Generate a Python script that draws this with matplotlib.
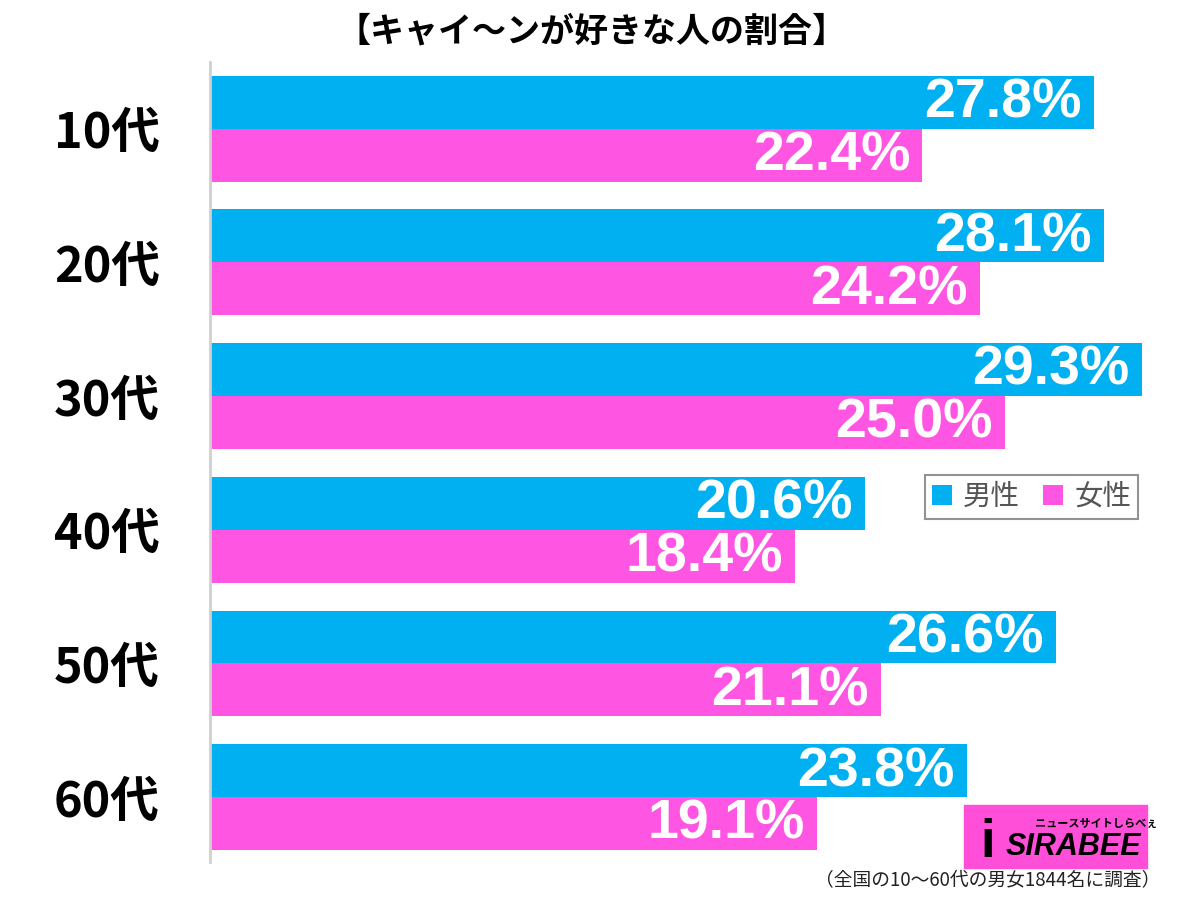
import matplotlib.pyplot as plt
from matplotlib.patches import Rectangle

plt.rcParams['font.family'] = ['Noto Sans CJK JP', 'DejaVu Sans']

ages = ['10代', '20代', '30代', '40代', '50代', '60代']
male = [27.8, 28.1, 29.3, 20.6, 26.6, 23.8]
female = [22.4, 24.2, 25.0, 18.4, 21.1, 19.1]

blue = '#00B0F0'
pink = '#FF55E3'

fig = plt.figure(figsize=(12, 8.97), dpi=100)
ax = fig.add_axes([0.175, 0.039, 0.825, 0.892])

h = 0.396
y = list(range(len(ages)))
ax.barh([i - h / 2 for i in y], male, height=h, color=blue, label='男性')
ax.barh([i + h / 2 for i in y], female, height=h, color=pink, label='女性')

for i in y:
    ax.text(male[i] - 0.38, i - h / 2 + 0.01, f'{male[i]:.1f}%', ha='right', va='center',
            color='white', fontsize=40, fontweight='bold', family='Liberation Sans')
    ax.text(female[i] - 0.38, i + h / 2 + 0.01, f'{female[i]:.1f}%', ha='right', va='center',
            color='white', fontsize=40, fontweight='bold', family='Liberation Sans')

ax.set_xlim(0, 31.13)
ax.set_ylim(5.485, -0.5)
ax.set_yticks(y)
ax.set_yticklabels(ages, fontsize=35, fontweight='bold')
ax.tick_params(axis='y', length=0, pad=36)
ax.set_xticks([])
for s in ['top', 'right', 'bottom']:
    ax.spines[s].set_visible(False)
ax.spines['left'].set_color('#d0d0d0')
ax.spines['left'].set_linewidth(2)

fig.text(0.493, 0.966, '【キャイ〜ンが好きな人の割合】', ha='center', va='center',
         fontsize=24.5, fontweight='bold')

leg = ax.legend(loc='upper left', bbox_to_anchor=(0.722, 0.484), ncol=2, fontsize=20.5,
                frameon=True, fancybox=False, handlelength=0.7, handleheight=0.7,
                handletextpad=0.4, columnspacing=0.8, borderpad=0.25, borderaxespad=0)
leg.get_frame().set_edgecolor('#777777')
leg.get_frame().set_linewidth(1.5)
for t in leg.get_texts():
    t.set_color('#555555')

# logo
fig.patches.append(Rectangle((964 / 1200, 1 - 868 / 897), 183 / 1200, 63 / 897,
                             transform=fig.transFigure, color='#FF4FD8', zorder=5))
fig.text(1006 / 1200, 1 - 847 / 897, 'SIRABEE', fontsize=22, fontweight='bold',
         style='italic', family='Liberation Sans', va='center', ha='left', zorder=6)
fig.text(1035 / 1200, 1 - 823 / 897, 'ニュースサイトしらべぇ', fontsize=8, fontweight='bold',
         va='center', ha='left', zorder=6)
fig.text(988 / 1200, 1 - 843 / 897, 'i', fontsize=38, fontweight='bold',
         family='Liberation Sans', va='center', ha='center', zorder=6)

fig.text(1160 / 1200, 1 - 881 / 897, '（全国の10〜60代の男女1844名に調査）', ha='right', va='center',
         fontsize=13.5, color='#222222')

fig.savefig('out.png', dpi=100)
